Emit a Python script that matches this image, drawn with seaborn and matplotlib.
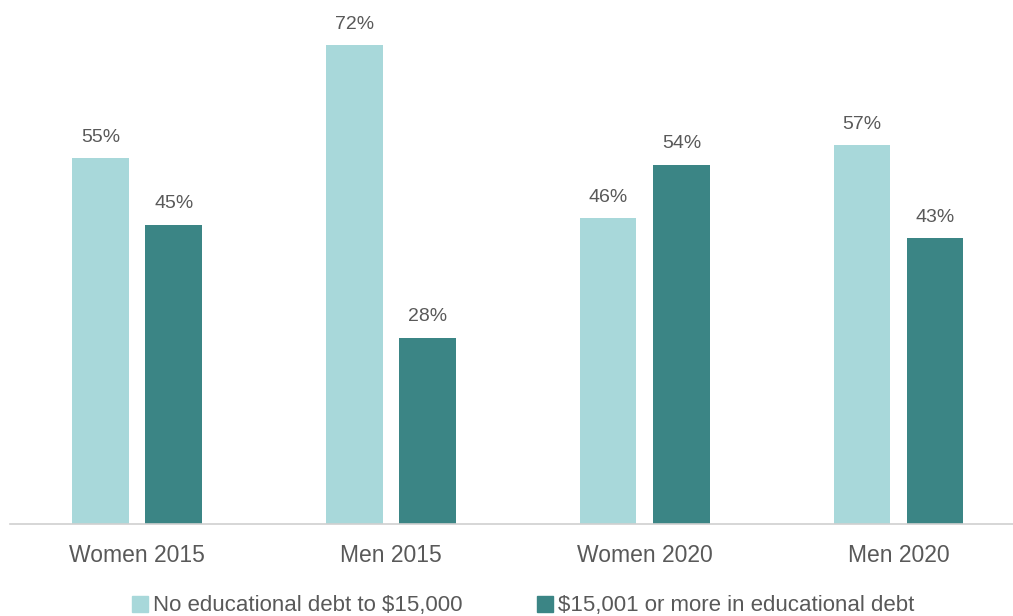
import matplotlib
matplotlib.use('Agg')
import matplotlib.pyplot as plt
import pandas as pd
import seaborn as sns

groups = ['Women 2015', 'Men 2015', 'Women 2020', 'Men 2020']
series = ['No educational debt to $15,000', '$15,001 or more in educational debt']
low_debt = [55, 72, 46, 57]
high_debt = [45, 28, 54, 43]
colors = ['#A8D8DA', '#3B8585']

df = pd.DataFrame({
    'group': groups * 2,
    'series': [series[0]] * 4 + [series[1]] * 4,
    'value': low_debt + high_debt,
})

sns.set_style('white')
plt.rcParams['font.family'] = ['Liberation Sans', 'DejaVu Sans']
text_color = '#595959'

fig = plt.figure(figsize=(10.13, 6.16), dpi=100)
ax = fig.add_axes([0.01, 0.149, 0.99, 0.851])

sns.barplot(data=df, x='group', y='value', hue='series', order=groups,
            hue_order=series, palette=colors, width=0.576, gap=0.23,
            saturation=1, linewidth=0, ax=ax, legend=False)

for cont in ax.containers:
    ax.bar_label(cont, labels=['{:d}%'.format(int(v)) for v in cont.datavalues],
                 padding=9, fontsize=14, color=text_color)

ax.set_xlim(-0.5, 3.45)
ax.set_ylim(0, 78.8)
ax.set_yticks([])
ax.set_xlabel('')
ax.set_ylabel('')
for s in ['top', 'right', 'left']:
    ax.spines[s].set_visible(False)
ax.spines['bottom'].set_color('#D0D0D0')
ax.spines['bottom'].set_linewidth(1.2)
ax.tick_params(axis='x', length=0, pad=14, labelsize=16.5, labelcolor=text_color)

handles = [plt.Line2D([], [], marker='s', linestyle='', markersize=12,
                      color=c) for c in colors]
fig.legend(handles, series, loc='lower center', bbox_to_anchor=(0.515, -0.033),
           ncol=2, frameon=False, fontsize=16, labelcolor=text_color,
           handletextpad=0.1, columnspacing=3.2, handlelength=1.0)

fig.savefig('out.png', dpi=100)
